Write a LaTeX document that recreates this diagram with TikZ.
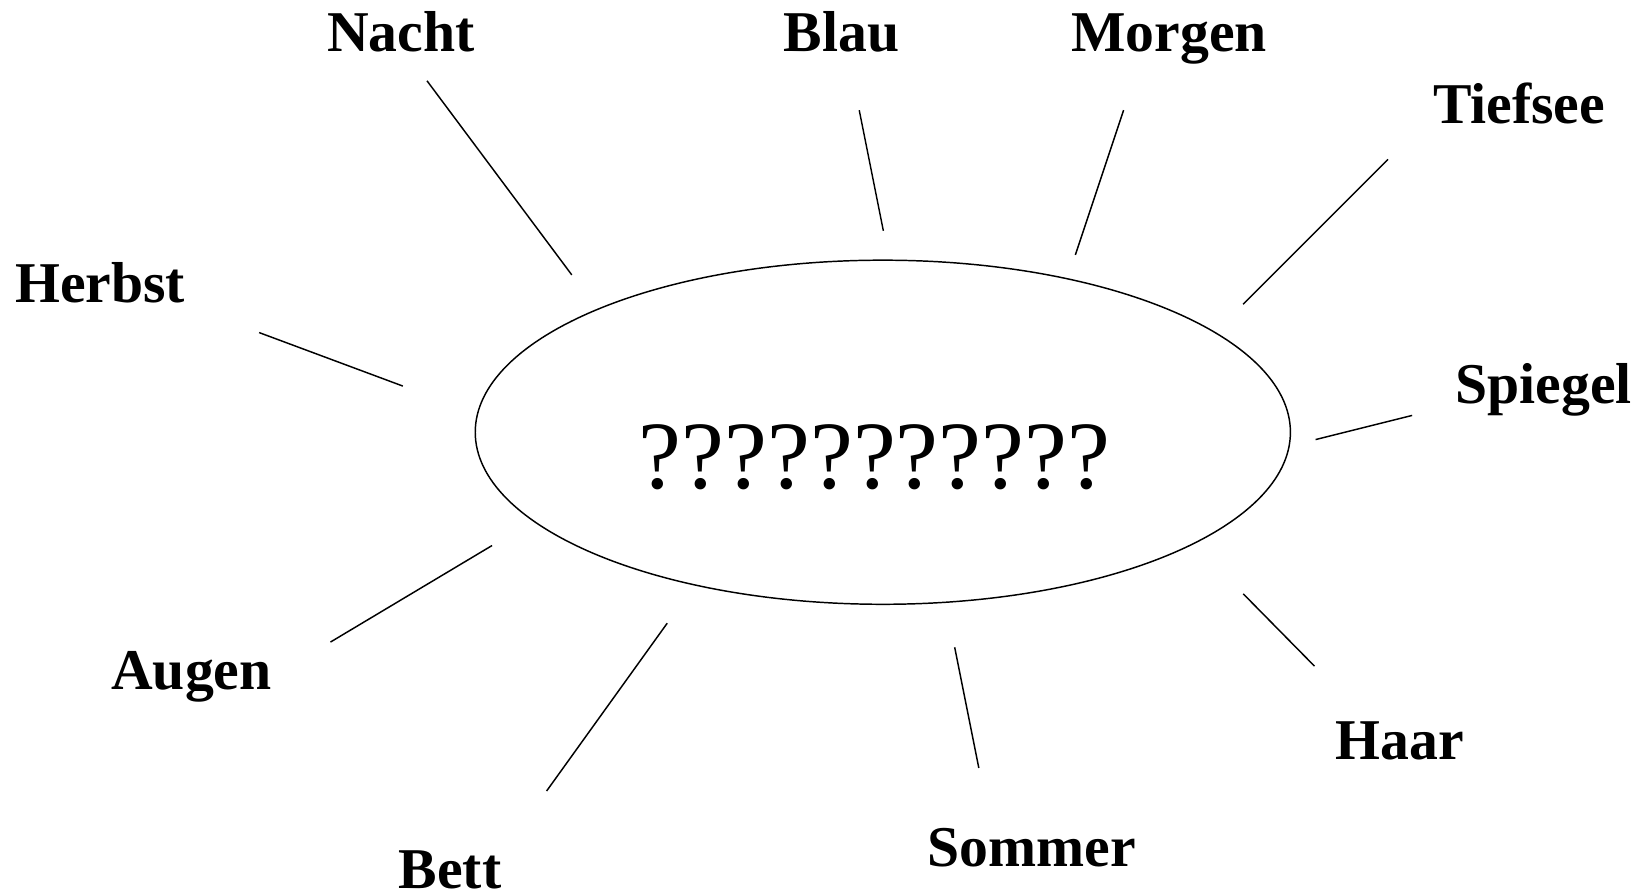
\documentclass[tikz,border=0pt]{standalone}
\usepackage{fontspec}
\setmainfont{Liberation Serif}
\begin{document}
\begin{tikzpicture}[x=1pt,y=-1pt,
  word/.style={font=\fontsize{55}{60}\selectfont\bfseries, anchor=base, inner sep=0pt},
  ray/.style={draw=black, line width=1.4pt}]
\useasboundingbox (0,0) rectangle (1568,854);
\fill[white] (0,0) rectangle (1568,854);
\draw[line width=1.4pt] (841.5,412) ellipse [x radius=388.5pt, y radius=164pt];
\node[font=\fontsize{92}{96}\selectfont, anchor=base, inner sep=0pt] (q) at (833.5,466) {???????????};
% labels
\node[word] (nacht) at (382,49.5) {Nacht};
\node[word] (blau) at (802,49.5) {Blau};
\node[word] (morgen) at (1114.5,49.5) {Morgen};
\node[word] (tiefsee) at (1448,117.5) {Tiefsee};
\node[word] (herbst) at (95.5,288) {Herbst};
\node[word] (spiegel) at (1471.5,384.5) {Spiegel};
\node[word] (augen) at (182.5,657) {Augen};
\node[word] (haar) at (1334,724) {Haar};
\node[word] (sommer) at (983.5,826) {Sommer};
\node[word] (bett) at (429,847) {Bett};
% ray ends
\coordinate (n1) at (407,77);   \coordinate (n2) at (545,262);
\coordinate (b1) at (819,105);  \coordinate (b2) at (842,220);
\coordinate (m1) at (1071,105); \coordinate (m2) at (1025,243);
\coordinate (t1) at (1323,152); \coordinate (t2) at (1185,290);
\coordinate (h1) at (247,317);  \coordinate (h2) at (384,368);
\coordinate (s1) at (1346,396); \coordinate (s2) at (1254,419);
\coordinate (a1) at (315,612);  \coordinate (a2) at (469,520);
\coordinate (e1) at (521,754);  \coordinate (e2) at (636,594);
\coordinate (o1) at (933,732);  \coordinate (o2) at (910,617);
\coordinate (r1) at (1253,635); \coordinate (r2) at (1185,566);
\draw[ray] (n1) -- (n2);
\draw[ray] (b1) -- (b2);
\draw[ray] (m1) -- (m2);
\draw[ray] (t1) -- (t2);
\draw[ray] (h1) -- (h2);
\draw[ray] (s1) -- (s2);
\draw[ray] (a1) -- (a2);
\draw[ray] (e1) -- (e2);
\draw[ray] (o1) -- (o2);
\draw[ray] (r1) -- (r2);
\end{tikzpicture}
\end{document}
